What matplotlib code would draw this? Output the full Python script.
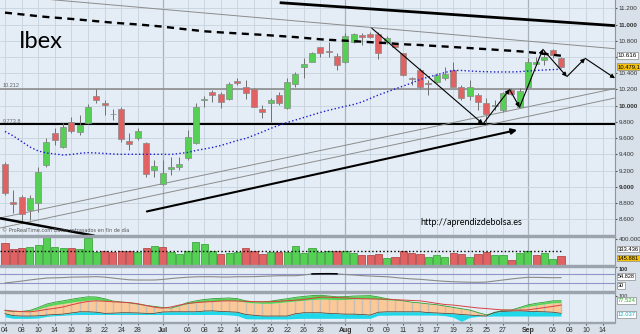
import numpy as np
import matplotlib.pyplot as plt
import matplotlib.transforms as mtransforms

# Ibex 35 daily sessions, 4 Jun - 7 Sep 2010 (x = trading day index)
opens = [9279, 8811, 8873, 8716, 8799, 9270, 9661, 9488, 9804, 9680,
         9788, 10120, 10028, 9904, 9956, 9570, 9606, 9537, 9209, 9036,
         9221, 9242, 9353, 9541, 10073, 10173, 10145, 10079, 10308, 10235,
         10203, 9964, 10030, 10132, 9969, 10264, 10481, 10542, 10720, 10678,
         10613, 10542, 10789, 10871, 10880, 10884, 10785, 10760, 10646, 10342,
         10440, 10284, 10296, 10338, 10440, 10227, 10120, 10132, 10030, 9991,
         9948, 10194, 9988, 10235, 10514, 10563, 10687, 10584]
highs = [9311, 8962, 8901, 8901, 9249, 9599, 9722, 9784, 9865, 9886,
         10021, 10203, 10071, 9960, 9985, 9661, 9726, 9557, 9332, 9332,
         9373, 9373, 9701, 10030, 10120, 10194, 10169, 10296, 10338, 10317,
         10219, 10009, 10092, 10173, 10338, 10419, 10584, 10666, 10727, 10789,
         10646, 10900, 10892, 10892, 10912, 10912, 10859, 10769, 10650, 10358,
         10461, 10317, 10400, 10481, 10542, 10255, 10317, 10153, 10092, 10071,
         10173, 10215, 10219, 10584, 10604, 10687, 10695, 10597]
lows = [8901, 8679, 8552, 8593, 8695, 9249, 9517, 9476, 9661, 9640,
        9775, 10030, 9886, 9824, 9550, 9455, 9578, 9126, 9126, 9024,
        9147, 9209, 9332, 9529, 9988, 10050, 9972, 10065, 10255, 10079,
        9981, 9845, 9803, 10009, 9956, 10235, 10338, 10539, 10604, 10604,
        10440, 10532, 10769, 10748, 10834, 10572, 10760, 10707, 10366, 10255,
        10215, 10132, 10276, 10317, 10227, 10071, 10071, 9948, 9784, 9948,
        9927, 10132, 9972, 10225, 10502, 10502, 10584, 10461]
closes = [8922, 8786, 8667, 8860, 9188, 9557, 9578, 9742, 9693, 9763,
          9981, 10071, 10015, 9892, 9587, 9529, 9693, 9156, 9258, 9175,
          9249, 9279, 9611, 9981, 10083, 10132, 10050, 10268, 10276, 10161,
          9988, 9927, 10071, 10038, 10296, 10391, 10510, 10646, 10653, 10658,
          10502, 10859, 10880, 10850, 10845, 10653, 10828, 10727, 10379, 10334,
          10235, 10268, 10379, 10390, 10235, 10092, 10227, 10050, 9898, 10003,
          10153, 10145, 10186, 10542, 10535, 10604, 10625, 10479.1]
volume = [334e3, 246e3, 266e3, 272e3, 303e3, 426e3, 272e3, 257e3, 257e3, 241e3,
          411e3, 205e3, 220e3, 195e3, 220e3, 220e3, 195e3, 257e3, 292e3, 282e3,
          205e3, 165e3, 220e3, 349e3, 323e3, 220e3, 165e3, 189e3, 200e3, 257e3,
          220e3, 169e3, 200e3, 195e3, 205e3, 292e3, 180e3, 257e3, 205e3, 220e3,
          220e3, 220e3, 189e3, 154e3, 154e3, 169e3, 103e3, 128e3, 215e3, 180e3,
          169e3, 128e3, 154e3, 118e3, 180e3, 169e3, 128e3, 164e3, 200e3, 154e3,
          159e3, 77e3, 189e3, 215e3, 154e3, 189e3, 87e3, 145881]
vol_avg = 220e3

ma_fast = [9683, 9628, 9560, 9492, 9443, 9418, 9406, 9393, 9400, 9414,
           9422, 9418, 9412, 9406, 9402, 9402, 9402, 9402, 9402, 9402,
           9400, 9412, 9424, 9449, 9467, 9486, 9510, 9541, 9572, 9597,
           9636, 9677, 9720, 9759, 9794, 9824, 9855, 9886, 9917, 9944,
           9969, 9993, 10015, 10046, 10089, 10132, 10169, 10206, 10243, 10280,
           10323, 10354, 10379, 10409, 10434, 10434, 10428, 10422, 10419, 10416,
           10416, 10416, 10419, 10428, 10434, 10440, 10445, 10449]
ma_slow = [11146, 11136, 11125, 11114, 11103, 11093, 11085, 11077, 11069, 11060,
           11051, 11041, 11032, 11023, 11015, 11008, 11001, 10992, 10983, 10974,
           10962, 10950, 10939, 10928, 10917, 10910, 10903, 10897, 10891, 10885,
           10879, 10873, 10866, 10859, 10852, 10845, 10836, 10827, 10818, 10812,
           10806, 10801, 10795, 10789, 10783, 10777, 10771, 10764, 10757, 10752,
           10748, 10741, 10735, 10729, 10723, 10716, 10710, 10703, 10697, 10690,
           10683, 10677, 10670, 10661, 10650, 10639, 10627, 10616]

rsi = [32, 36, 40, 45, 49, 53, 54, 55, 57, 57.5,
       58, 59, 57, 53, 49, 45.5, 44.7, 44.7, 44.7, 47,
       51, 54, 56.6, 58.3, 58.7, 58.7, 57.4, 57.4, 58.7, 58.7,
       59, 60.4, 61.7, 63, 63, 63, 66, 70.5, 71.2, 71.5,
       70.8, 68, 66, 63.4, 61.7, 60, 58.7, 55.3, 52, 49.4,
       47.7, 44.7, 41.7, 39.1, 37.4, 36.2, 35.3, 34.9, 36, 40.4,
       44.7, 49, 53, 56.2, 56, 55.3, 54.5, 54.828]

osc_top = [26, 21, 22, 27, 42, 60, 70, 77, 85, 92,
           98, 97, 88, 76, 71, 66, 60, 53, 48, 42,
           39, 52, 68, 77, 84, 88, 90, 92, 88, 77,
           72, 72, 75, 82, 88, 95, 100, 104, 106, 102,
           98, 99, 102, 103, 104, 97, 88, 82, 77, 70,
           66, 61, 57, 50, 43, 36, 29, 16, 4, 15,
           28, 29, 42, 56, 64, 70, 77, 77.524]
osc_band = [26, 21, 22, 25, 34, 48, 57, 63, 70, 76,
            81, 82, 78, 76, 71, 66, 60, 53, 48, 42,
            39, 50, 62, 68, 73, 76, 78, 80, 78, 70,
            66, 64, 64, 68, 72, 76, 80, 84, 86, 85,
            83, 84, 87, 88, 89, 86, 82, 80, 77, 70,
            66, 61, 57, 50, 43, 36, 29, 16, 4, 15,
            28, 29, 38, 48, 55, 61, 67, 68]
osc_low = [10, 0, -2, -2, -1, 3, 6, 8, 14, 20,
           20, 18, 12, 13, 15, 15, 14, 12, 12, 19,
           20, 20, 20, 20, 24, 25, 22, 20, 18, 6,
           2, -2, -2, -2, -2, 10, 15, 15, 15, 12,
           10, 8, 8, 6, 3, 18, 20, 20, 20, 20,
           20, 16, 14, 12, 10, 6, 3, 0, -2, 18,
           22, 24, 25, 23, 21, 20, 18, 12.037]
osc_base = [-6, -14, -14, -14, -12, -4, 0, 2, 5, 6,
            6, 6, 6, 6, 6, 6, 6, 6, 6, 6,
            6, 6, 6, 6, 6, 6, 6, 4, 0, -16,
            -17, -17, -17, -17, -17, -15, -14, -14, -14, -14,
            -14, -14, -14, -14, -14, 2, 2, 3, 3, 3,
            3, 3, 3, 0, -8, -30, -9, -4, -3, -2,
            -2, -2, -2, -2, -2, -2, -2, -2]
osc_signal = [28, 24, 21, 20, 25, 32, 38, 45, 56, 66,
              74, 77, 75, 72, 70, 68, 62, 53, 44, 39,
              45, 55, 63, 68, 71, 73, 76, 77, 76, 74,
              73, 72, 73, 75, 78, 80, 84, 90, 96, 96,
              94, 92, 90, 88, 87, 86, 85, 83, 81, 79,
              77, 71, 64, 58, 55, 50, 45, 40, 37, 33,
              30, 29, 29, 30, 36, 42, 48, 55]

# date axis
label_days = [0, 2, 4, 6, 8, 10, 12, 14, 16, 19, 22, 24, 26, 28, 30, 32, 34,
              36, 38, 41, 44, 46, 48, 50, 52, 54, 56, 58, 60, 63, 66, 68, 70, 72]
label_text = ['04', '08', '10', '14', '16', '18', '22', '24', '28', 'Jul',
              '06', '08', '12', '14', '16', '20', '22', '26', '28', 'Aug',
              '05', '09', '11', '13', '17', '19', '23', '25', '27', 'Sep',
              '06', '08', '10', '14']
month_days = [19, 41, 63]

# hand drawn lines (day, price)
resistance = [(33.1, 11269), (73.5, 10986)]
upper_channel = [(5.4, 11308), (73.5, 10702)]
support_a = [(-0.6, 8618), (73.5, 10212)]
support_b = [(-0.6, 8494), (73.5, 10095)]
rise_arrow = [(17.1, 8698), (61.7, 9701)]
fall_line = [(-0.6, 8614), (10.8, 8398)]
drop_arrow = [(44.2, 10954), (57.6, 9775)]
zigzag = [(57.6, 9775), (60.8, 10202), (62.0, 9981), (64.8, 10695),
          (67.7, 10358), (69.9, 10584), (73.5, 10338)]
level_grey = 10212
level_black = 9773.8

BG = '#e4edf5'
FIG_BG = '#d8e1e9'
GRID = '#c6d3de'
GRID_MONTH = '#a6b2bd'
SEP = '#9ba4ac'
GREEN = '#55d055'
RED = '#e06262'
AXFONT = ['Liberation Sans', 'DejaVu Sans']

days = np.arange(len(closes))
o = np.array(opens); c = np.array(closes)
h = np.array(highs); l = np.array(lows)

fig = plt.figure(figsize=(6.4, 3.34), dpi=100, facecolor=FIG_BG)
W = 615 / 640
ax = fig.add_axes([0, 1 - 234.5 / 334, W, 234.5 / 334])
axv = fig.add_axes([0, 1 - 265 / 334, W, 28.5 / 334], sharex=ax)
axr = fig.add_axes([0, 1 - 291 / 334, W, 24 / 334], sharex=ax)
axo = fig.add_axes([0, 1 - 322 / 334, W, 29 / 334], sharex=ax)

for a in (ax, axv, axr, axo):
    a.set_facecolor(BG)
    for s in ('top', 'left', 'bottom'):
        a.spines[s].set_visible(False)
    a.spines['right'].set_color('#8d969e')
    a.spines['right'].set_linewidth(0.8)
    a.yaxis.tick_right()
    a.tick_params(axis='y', labelsize=4.5, length=1.5, pad=1, colors='#555555',
                  labelcolor='#333333', labelfontfamily=AXFONT)
    a.tick_params(axis='x', length=0, labelbottom=False)
    for d in label_days:
        a.axvline(d, color=GRID_MONTH if d in month_days else GRID,
                  lw=0.9 if d in month_days else 0.6, zorder=0)

# panel separators
for ytop, ybot in [(234.5, 236.5), (265, 267), (291, 293)]:
    fig.patches.append(plt.Rectangle((0, 1 - ybot / 334), W, (ybot - ytop) / 334,
                                     transform=fig.transFigure, color=SEP, zorder=5))
fig.patches.append(plt.Rectangle((0, 1 - 323 / 334), W, 1 / 334,
                                 transform=fig.transFigure, color=SEP, zorder=5))

ax.set_xlim(-0.6, 73.5)

# ---- price panel
ax.set_ylim(8414, 11302)
for p in range(8600, 11201, 200):
    ax.axhline(p, color=GRID, lw=0.6, zorder=0)
ax.axhline(level_grey, color='#8c8c8c', lw=1.2, zorder=1)
ax.axhline(level_black, color='black', lw=1.5, zorder=1)
ax.text(-0.3, level_grey + 12, '10.212', fontsize=4, color='#666666',
        va='bottom', family=AXFONT)
ax.text(-0.3, level_black + 12, '9.773,8', fontsize=4, color='#666666',
        va='bottom', family=AXFONT)

ax.vlines(days, l, h, color='#707070', lw=0.7, zorder=2)
up = c >= o
ax.bar(days, np.abs(c - o), bottom=np.minimum(o, c), width=0.72,
       color=np.where(up, GREEN, RED), edgecolor='#8a8a8a', lw=0.5, zorder=3)

ax.plot(days, ma_slow, color='black', lw=1.7, dashes=(3, 2.3), zorder=4)
ax.plot(days, ma_fast, color='#1c1cd0', lw=1.0, ls=':', zorder=4)

for pts, col, lw in [(resistance, 'black', 2.0), (upper_channel, '#8c8c8c', 0.7),
                     (support_a, '#8c8c8c', 0.7), (support_b, '#8c8c8c', 0.7),
                     (fall_line, 'black', 1.8)]:
    xs, ys = zip(*pts)
    ax.plot(xs, ys, color=col, lw=lw, zorder=2, solid_capstyle='butt')


def arrow(p0, p1, lw=0.8, ms=6):
    ax.annotate('', xy=p1, xytext=p0, zorder=6,
                arrowprops=dict(arrowstyle='-|>', color='black', lw=lw,
                                mutation_scale=ms, shrinkA=0, shrinkB=0))


arrow(rise_arrow[0], rise_arrow[1], lw=1.5, ms=8)
arrow(drop_arrow[0], drop_arrow[1])
for p0, p1 in zip(zigzag[:-1], zigzag[1:]):
    arrow(p0, p1)

ax.text(0.03, 0.825, 'Ibex', transform=ax.transAxes, fontsize=17,
        family='Lato', va='center', color='black')
ax.text(0.683, 0.053, 'http://aprendizdebolsa.es', transform=ax.transAxes,
        fontsize=6.5, family='Lato', va='center', color='black')
ax.text(0.003, 0.006, '© ProRealTime.com Datos retrasados en fin de día',
        transform=ax.transAxes, fontsize=3.6, color='#555555', va='bottom')

ax.set_yticks(range(8600, 11201, 200))
ax.set_yticklabels([f'{p // 1000}.{p % 1000:03d}' for p in range(8600, 11201, 200)])
for t, p in zip(ax.get_yticklabels(), range(8600, 11201, 200)):
    if p % 1000 == 0:
        t.set_fontweight('bold')


def side_box(a, value, text, fc='white', tc='black', size=4.5):
    tr = mtransforms.blended_transform_factory(a.transAxes, a.transData)
    a.text(1.004, value, text, transform=tr, fontsize=size, color=tc,
           family=AXFONT, va='center', ha='left', clip_on=False, zorder=10,
           bbox=dict(boxstyle='square,pad=0.15', fc=fc, ec='#8a8a8a', lw=0.5))


side_box(ax, ma_slow[-1], '10.616')
side_box(ax, closes[-1], '10.479,1', fc='#f4c20d', size=4.2)

# ---- volume panel
axv.set_ylim(0, 438e3)
prev = np.concatenate([[o[0]], c[:-1]])
vup = c >= prev
axv.bar(days, volume, width=0.86, color=np.where(vup, GREEN, RED),
        edgecolor=np.where(vup, '#2f9a2f', '#a83a3a'), lw=0.5, zorder=3)
axv.hlines(vol_avg, -0.6, days[-1], color='black', lw=1.0, ls=':', zorder=4)
axv.set_yticks([400e3])
axv.set_yticklabels(['400.000'])
side_box(axv, vol_avg + 25e3, '333.436', size=4.2)
side_box(axv, volume[-1] - 40e3, '145.881', fc='#f4c20d', size=4.2)

# ---- RSI panel
rsi = np.array(rsi)
axr.set_ylim(-2, 100)
axr.axhline(70, color='#8f96c6', lw=0.8, zorder=1)
axr.axhline(30, color='#8f96c6', lw=0.8, zorder=1)
axr.plot(days, rsi, color='#8a8a8a', lw=0.8, zorder=3)
axr.plot(days, np.ma.masked_where(rsi < 70, rsi), color='black', lw=1.1, zorder=4)
axr.set_yticks([100])
axr.set_yticklabels(['100'])
axr.tick_params(axis='y', labelsize=4)
axr.get_yticklabels()[0].set_fontweight('bold')
axr.get_yticklabels()[0].set_va('top')
side_box(axr, rsi[-1] + 4, '54.828', size=4)
side_box(axr, 22, '30', size=4)

# ---- oscillator panel
axo.set_ylim(-33, 117.7)
axo.fill_between(days, osc_low, osc_band, color='#fbc898', lw=0, zorder=1)
axo.vlines(days, osc_low, osc_band, color='#c7bdb3', lw=1.0, zorder=2)
axo.fill_between(days, osc_band, osc_top, color='#55d455', lw=0, zorder=2)
axo.fill_between(days, osc_base, osc_low, color='#1fd9ea', lw=0, zorder=2)
axo.plot(days, osc_top, color='#2e9e2e', lw=0.6, zorder=3)
axo.plot(days, osc_low, color='#3a3a3a', lw=0.5, zorder=3)
axo.plot(days, osc_signal, color='#d84040', lw=0.7, zorder=4)
axo.set_yticks([100])
axo.set_yticklabels(['100'])
axo.tick_params(axis='y', labelsize=4)
side_box(axo, osc_top[-1], '77.524', tc='#2aa82a', size=4.2)
side_box(axo, osc_low[-1] - 8, '12.037', tc='#16aabf', size=4.2)

axo.set_xticks(label_days)
axo.set_xticklabels(label_text)
axo.tick_params(axis='x', labelbottom=True, labelsize=5, length=2, pad=1.5,
                colors='#555555', labelcolor='#333333', labelfontfamily=AXFONT)
for t in axo.get_xticklabels():
    if t.get_text() in ('Jul', 'Aug', 'Sep'):
        t.set_fontweight('bold')

fig.savefig('out.png', dpi=100, facecolor=FIG_BG)
